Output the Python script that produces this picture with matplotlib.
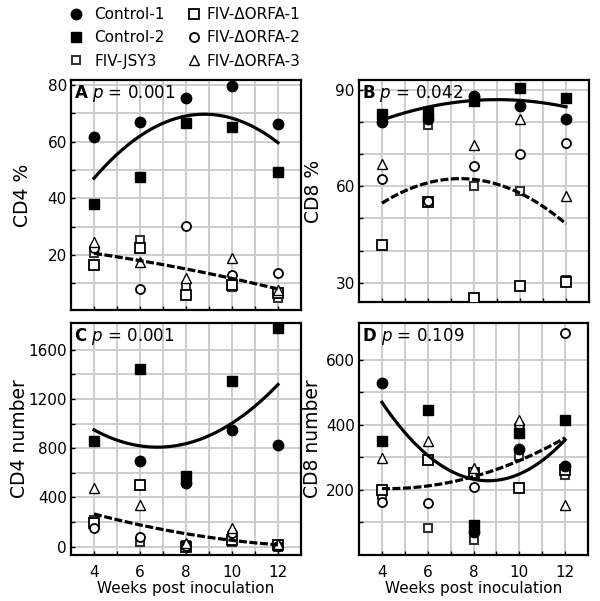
import numpy as np
import matplotlib
matplotlib.use("Agg")
import matplotlib.pyplot as plt
from matplotlib.lines import Line2D
from matplotlib.ticker import FixedLocator

nan = np.nan
weeks = [4, 6, 8, 10, 12]
series_names = ["Control-1", "Control-2", "FIV-JSY3", "FIV-ΔORFA-1", "FIV-ΔORFA-2", "FIV-ΔORFA-3"]

# Panel A: CD4 %
a_control1 = [61.8, 67.1, 75.3, 79.6, 66.1]
a_control2 = [38.0, 47.4, 66.7, 65.3, 49.2]
a_jsy3 = [20.6, 25.3, 8.8, 8.8, 4.7]
a_orfa1 = [16.5, 22.4, 5.9, 9.4, 6.5]
a_orfa2 = [22.4, 7.9, 30.2, 12.9, 13.5]
a_orfa3 = [24.7, 17.6, 11.8, 18.8, 7.6]
a_fit_control = [47.4, 61.2, 69.8, 68.2, 59.6]
a_fit_fiv = [20.6, 18.2, 14.7, 12.1, 7.9]

# Panel B: CD8 %
b_control1 = [79.8, 80.8, 88.1, 85.0, 80.8]
b_control2 = [82.4, 82.9, 86.6, 90.4, 87.3]
b_jsy3 = [nan, 79.0, 60.0, 58.4, 30.8]
b_orfa1 = [41.8, 55.0, 25.1, 29.0, 30.3]
b_orfa2 = [62.1, 55.5, 66.3, 70.1, 73.3]
b_orfa3 = [66.8, nan, 72.7, 80.8, 56.9]
b_fit_control = [80.8, 84.0, 86.9, 86.9, 84.5]
b_fit_fiv = [55.0, 60.5, 62.1, 58.4, 48.0]

# Panel C: CD4 number
c_control1 = [nan, 697, 515, 949, 827]
c_control2 = [860, 1443, 570, 1342, 1776]
c_jsy3 = [217, 41, 15, 41, 0]
c_orfa1 = [190, 502, 0, 54, 10]
c_orfa2 = [150, 81, 5, 108, 5]
c_orfa3 = [475, 339, 30, 149, 20]
c_fit_control = [944, 827, 840, 990, 1323]
c_fit_fiv = [266, 176, 103, 54, 14]

# Panel D: CD8 number
d_control1 = [530, nan, 72, 325, 272]
d_control2 = [349, 446, 92, 374, 415]
d_jsy3 = [185, 82, 46, 303, 246]
d_orfa1 = [200, 292, 251, 205, 262]
d_orfa2 = [164, 159, 210, 400, 682]
d_orfa3 = [297, 349, 267, 415, 154]
d_fit_control = [467, 313, 226, 251, 354]
d_fit_fiv = [205, 210, 241, 292, 359]

panel_letters = ["A", "B", "C", "D"]
p_values = ["0.001", "0.042", "0.001", "0.109"]
y_labels = ["CD4 %", "CD8 %", "CD4 number", "CD8 number"]
x_label = "Weeks post inoculation"

styles = [
    dict(marker='o', ms=7.5, mfc='black', mec='black', mew=1.0),
    dict(marker='s', ms=7.0, mfc='black', mec='black', mew=1.0),
    dict(marker='s', ms=5.5, mfc='white', mec='#333333', mew=1.5),
    dict(marker='s', ms=6.5, mfc='white', mec='black', mew=1.3),
    dict(marker='o', ms=6.5, mfc='white', mec='black', mew=1.3),
    dict(marker='^', ms=6.5, mfc='white', mec='black', mew=1.0),
]

fig = plt.figure(figsize=(6, 6.01), dpi=100)

def add_axes(l, t, r, b):
    return fig.add_axes([l / 600, 1 - b / 601, (r - l) / 600, (b - t) / 601])

panels = [
    dict(box=(71, 80, 301, 310), data=[a_control1, a_control2, a_jsy3, a_orfa1, a_orfa2, a_orfa3],
         fits=[(a_fit_control, '-'), (a_fit_fiv, (0, (2.5, 0.8)))], ylim=(0.6, 81.8),
         major=[20, 40, 60, 80], minor=[10, 30, 50, 70], xlab=False, ylx=-0.17),
    dict(box=(359, 80, 589, 302), data=[b_control1, b_control2, b_jsy3, b_orfa1, b_orfa2, b_orfa3],
         fits=[(b_fit_control, '-'), (b_fit_fiv, (0, (2.5, 0.8)))], ylim=(24, 93),
         major=[30, 60, 90], minor=[40, 50, 70, 80], xlab=False, ylx=-0.157),
    dict(box=(71, 323, 301, 555), data=[c_control1, c_control2, c_jsy3, c_orfa1, c_orfa2, c_orfa3],
         fits=[(c_fit_control, '-'), (c_fit_fiv, (0, (2.5, 0.8)))], ylim=(-68, 1817),
         major=[0, 400, 800, 1200, 1600], minor=[200, 600, 1000, 1400], xlab=True, ylx=-0.183),
    dict(box=(359, 323, 588, 555), data=[d_control1, d_control2, d_jsy3, d_orfa1, d_orfa2, d_orfa3],
         fits=[(d_fit_control, '-'), (d_fit_fiv, (0, (2.5, 0.8)))], ylim=(0, 713),
         major=[200, 400, 600], minor=[100, 300, 500], xlab=True, ylx=-0.162),
]

xs = np.linspace(4, 12, 200)
for i, p in enumerate(panels):
    ax = add_axes(*p['box'])
    ax.set_xlim(3, 13)
    ax.set_ylim(*p['ylim'])
    ax.xaxis.set_major_locator(FixedLocator(weeks))
    ax.xaxis.set_minor_locator(FixedLocator([5, 7, 9, 11]))
    ax.yaxis.set_major_locator(FixedLocator(p['major']))
    ax.yaxis.set_minor_locator(FixedLocator(p['minor']))
    ax.grid(True, which='both', color='#cdcdcd', lw=1.4)
    ax.set_axisbelow(True)
    for s in ax.spines.values():
        s.set_linewidth(1.6)
    ax.tick_params(which='both', direction='in', length=3, width=1, labelsize=11, pad=3)
    ax.tick_params(axis='x', pad=7)
    if not p['xlab']:
        ax.tick_params(axis='x', labelbottom=False)
    else:
        ax.set_xlabel(x_label, fontsize=11, labelpad=1)
    ax.set_ylabel(y_labels[i], fontsize=13.5)
    ax.yaxis.set_label_coords(p['ylx'], 0.5)
    order = [2, 3, 4, 5, 0, 1]
    for k in order:
        ax.plot(weeks, p['data'][k], ls='none', zorder=3, **styles[k])
    for vals, ls in p['fits']:
        coef = np.polyfit(weeks, vals, 2)
        ax.plot(xs, np.polyval(coef, xs), color='black', lw=2.3, ls=ls, zorder=5)
    ax.text(0.015, 0.985, r"$\mathbf{%s}$ $p$ = %s" % (panel_letters[i], p_values[i]),
            transform=ax.transAxes, ha='left', va='top', fontsize=12, zorder=6)

handles = [Line2D([], [], ls='none', **st) for st in styles]
leg1 = fig.legend(handles[:3], series_names[:3], loc='upper left', bbox_to_anchor=(67 / 600, 1 - 7 / 601),
                  frameon=False, fontsize=11, labelspacing=0.55, handletextpad=0.6, handlelength=1.2,
                  borderpad=0, borderaxespad=0)
leg2 = fig.legend(handles[3:], series_names[3:], loc='upper left', bbox_to_anchor=(185 / 600, 1 - 7 / 601),
                  frameon=False, fontsize=11, labelspacing=0.55, handletextpad=0.2, handlelength=1.2,
                  borderpad=0, borderaxespad=0)

fig.savefig("out.png", dpi=100)
